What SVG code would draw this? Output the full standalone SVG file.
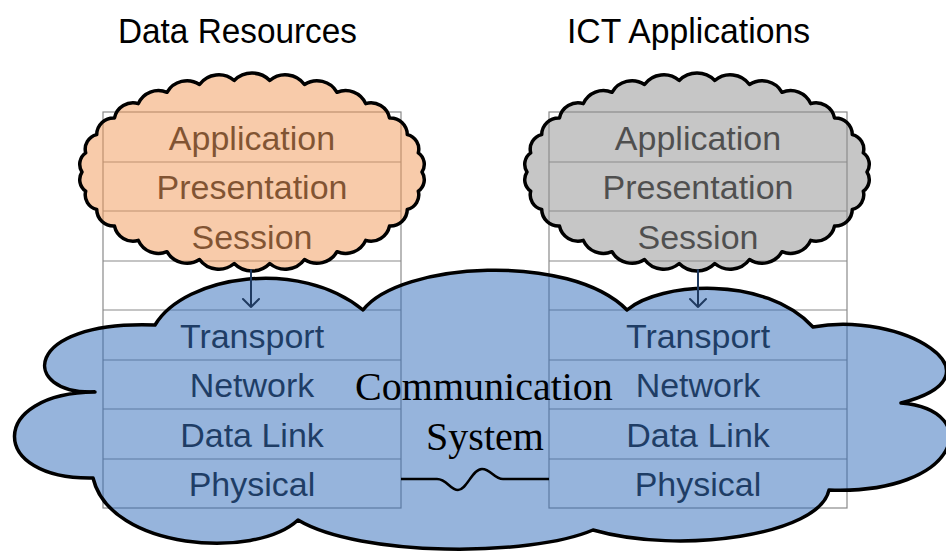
<svg xmlns="http://www.w3.org/2000/svg" width="946" height="551" viewBox="0 0 946 551">
<style>
.tl{fill:none;stroke:#8a8a8a;stroke-width:1.2}
.lbl{font-family:"Liberation Sans",Arial,sans-serif;font-size:34px;fill:#111;text-anchor:middle}
.ttl{font-family:"Liberation Sans",Arial,sans-serif;font-size:35px;fill:#000;text-anchor:middle}
.cs{font-family:"Liberation Serif","Times New Roman",serif;font-size:40px;fill:#000;text-anchor:middle}
.cloud{stroke:#000;stroke-width:3.5;stroke-linejoin:round;fill-opacity:0.5}
.arrow{stroke:#1f3a60;stroke-width:2;fill:none;stroke-linecap:round;stroke-linejoin:round}
.link{stroke:#000;stroke-width:2.5;fill:none}
</style>
<defs>
<path id="scallop" d="M170,0 A14,14 0 0 1 166.3,19.1 A15,15 0 0 1 155.3,37.4 A17,17 0 0 1 137.5,54.1 A19,19 0 0 1 113.7,68.4 A22,22 0 0 1 85,79.7 A23,23 0 0 1 52.5,87.5 A24,24 0 0 1 17.8,91.5 A25,25 0 0 1 -17.8,91.5 A24,24 0 0 1 -52.5,87.5 A23,23 0 0 1 -85,79.7 A22,22 0 0 1 -113.7,68.4 A19,19 0 0 1 -137.5,54.1 A17,17 0 0 1 -155.3,37.4 A15,15 0 0 1 -166.3,19.1 A14,14 0 0 1 -170,0 A14,14 0 0 1 -166.3,-19.1 A15,15 0 0 1 -155.3,-37.4 A17,17 0 0 1 -137.5,-54.1 A19,19 0 0 1 -113.7,-68.4 A22,22 0 0 1 -85,-79.7 A23,23 0 0 1 -52.5,-87.5 A24,24 0 0 1 -17.8,-91.5 A25,25 0 0 1 17.8,-91.5 A24,24 0 0 1 52.5,-87.5 A23,23 0 0 1 85,-79.7 A22,22 0 0 1 113.7,-68.4 A19,19 0 0 1 137.5,-54.1 A17,17 0 0 1 155.3,-37.4 A15,15 0 0 1 166.3,-19.1 A14,14 0 0 1 170,0 Z"/>
</defs>
<rect width="946" height="551" fill="#fff"/>

<g id="stack-left">
<rect class="tl" x="103" y="112" width="298" height="396"/>
<path class="tl" d="M103,162H401M103,211H401M103,261H401M103,310H401M103,360H401M103,409H401M103,459H401"/>
<text class="lbl" x="252" y="149.5">Application</text>
<text class="lbl" x="252" y="199">Presentation</text>
<text class="lbl" x="252" y="248.5">Session</text>
<text class="lbl" x="252" y="347.5">Transport</text>
<text class="lbl" x="252" y="397">Network</text>
<text class="lbl" x="252" y="446.5">Data Link</text>
<text class="lbl" x="252" y="496">Physical</text>
</g>

<g id="stack-right">
<rect class="tl" x="549" y="112" width="298" height="396"/>
<path class="tl" d="M549,162H847M549,211H847M549,261H847M549,310H847M549,360H847M549,409H847M549,459H847"/>
<text class="lbl" x="698" y="149.5">Application</text>
<text class="lbl" x="698" y="199">Presentation</text>
<text class="lbl" x="698" y="248.5">Session</text>
<text class="lbl" x="698" y="347.5">Transport</text>
<text class="lbl" x="698" y="397">Network</text>
<text class="lbl" x="698" y="446.5">Data Link</text>
<text class="lbl" x="698" y="496">Physical</text>
</g>

<g id="cloud-communication">
<path class="cloud" fill="#2d69b9" d="M95,392 C20,395 20,320 155,325 C185,275 300,258 363,310 C400,262 570,252 627,310 C660,282 765,275 813,327 C900,310 1010,375 901,403 C985,410 960,495 829,490 C820,535 680,555 593,530 C530,557 360,557 298,520 C255,560 110,550 93,478 C-12,480 -12,393 95,392 Z"/>
<text class="cs" x="484" y="400">Communication</text>
<text class="cs" x="485" y="450">System</text>
</g>

<g id="cloud-data">
<use href="#scallop" transform="translate(252,172)" class="cloud" fill="#f19755"/>
</g>

<g id="cloud-ict">
<use href="#scallop" transform="translate(697,172)" class="cloud" fill="#8d8d8d"/>
</g>

<g id="titles">
<text class="ttl" x="237.5" y="43" textLength="239" lengthAdjust="spacingAndGlyphs">Data Resources</text>
<text class="ttl" x="688.5" y="43" textLength="243" lengthAdjust="spacingAndGlyphs">ICT Applications</text>
</g>

<g id="connectors">
<path class="arrow" d="M251,270V307M243,299L251,307L259,299"/>
<path class="arrow" d="M698,270V307M690,299L698,307L706,299"/>
<path class="link" d="M401,479H437C447,479 450,490 458,490C467,490 472,469 482,469C491,469 494,479 503,479H549"/>
</g>
</svg>
